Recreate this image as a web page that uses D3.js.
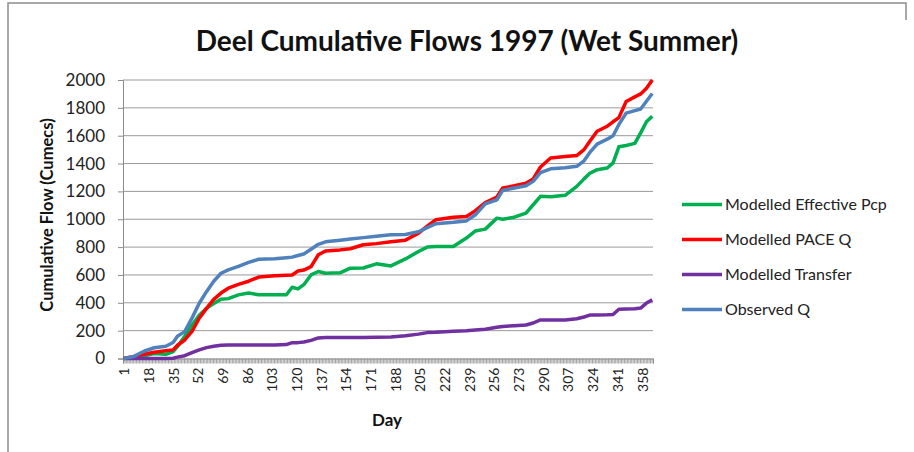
<!DOCTYPE html>
<html>
<head>
<meta charset="utf-8">
<script src="https://cdn.jsdelivr.net/npm/d3@7"></script>
<style>
  body { margin: 0; background: #fff; }
  svg { display: block; font-family: Lato, "Open Sans", sans-serif; }
</style>
</head>
<body>
<div id="chart"></div>
<script>
const days = [1, 8, 15, 22, 30, 35, 38, 43, 48, 53, 58, 63, 68, 73, 80, 87, 94, 105, 113, 117, 121, 125, 130, 135, 140, 150, 157, 166, 175, 185, 195, 204, 210, 216, 228, 237, 243, 250, 258, 262, 270, 278, 283, 288, 295, 305, 313, 318, 322, 327, 334, 338, 342, 347, 353, 357, 361, 365];

const effectivePcp = [0, 8, 20, 36, 30, 50, 85, 160, 240, 310, 360, 395, 426, 430, 457, 470, 458, 457, 458, 512, 500, 530, 600, 625, 612, 615, 649, 650, 680, 665, 715, 768, 800, 805, 804, 865, 915, 929, 1008, 1000, 1015, 1044, 1104, 1165, 1162, 1172, 1236, 1290, 1330, 1356, 1368, 1405, 1520, 1530, 1545, 1620, 1700, 1740];

const paceQ = [0, 14, 30, 45, 55, 62, 95, 133, 195, 289, 360, 425, 470, 505, 532, 555, 585, 594, 598, 600, 628, 635, 660, 745, 772, 780, 788, 817, 825, 838, 850, 900, 950, 997, 1015, 1020, 1060, 1120, 1160, 1224, 1240, 1258, 1290, 1375, 1440, 1450, 1457, 1500, 1560, 1632, 1668, 1700, 1730, 1845, 1879, 1900, 1940, 2000];

const transfer = [0, 0, 0, 0, 0, 2, 10, 20, 42, 62, 78, 88, 95, 97, 97, 97, 97, 97, 100, 114, 114, 118, 130, 148, 150, 150, 150, 150, 152, 155, 163, 175, 186, 188, 195, 200, 205, 210, 224, 230, 236, 241, 255, 277, 277, 277, 285, 298, 312, 313, 314, 316, 354, 356, 358, 362, 398, 421];

const observedQ = [0, 15, 52, 77, 88, 115, 160, 193, 290, 397, 480, 555, 612, 637, 661, 690, 713, 716, 724, 728, 740, 750, 785, 820, 838, 850, 858, 868, 878, 888, 890, 910, 940, 968, 978, 988, 1030, 1110, 1140, 1207, 1225, 1240, 1272, 1335, 1362, 1370, 1380, 1420, 1480, 1540, 1575, 1600, 1680, 1762, 1780, 1792, 1847, 1903];

const seriesNames = ["Modelled Effective Pcp", "Modelled PACE Q", "Modelled Transfer", "Observed Q"];
const seriesColors = ["#00b050", "#ff0000", "#7030a0", "#4f81bd"];
const xLabels = [1, 18, 35, 52, 69, 86, 103, 120, 137, 154, 171, 188, 205, 222, 239, 256, 273, 290, 307, 324, 341, 358];
const yTicks = [0, 200, 400, 600, 800, 1000, 1200, 1400, 1600, 1800, 2000];

const width = 914;
const height = 452;
const plot = { left: 123, right: 653, top: 80, bottom: 358.5 };

const svg = d3.select("#chart")
    .append("svg")
    .attr("width", width)
    .attr("height", height);

// chart frame (left / top edge of the excel chart box)
svg.append("path")
    .attr("d", "M8,452 L8,3 L906,3 L906,20")
    .attr("fill", "none")
    .attr("stroke", "#8c8c8c")
    .attr("stroke-width", 1.5);

const x = d3.scaleLinear()
    .domain([0.5, 365.5])
    .range([plot.left, plot.right]);

const y = d3.scaleLinear()
    .domain([0, 2000])
    .range([plot.bottom, plot.top]);

// gridlines
svg.append("g")
    .selectAll("line")
    .data(yTicks.filter(d => d > 0))
    .join("line")
    .attr("x1", plot.left)
    .attr("x2", plot.right)
    .attr("y1", d => y(d))
    .attr("y2", d => y(d))
    .attr("stroke", "#9a9a9a")
    .attr("stroke-width", 1);

// y axis
const yAxis = svg.append("g")
    .attr("transform", `translate(${plot.left},0)`)
    .call(d3.axisLeft(y).tickValues(yTicks).tickSize(5).tickPadding(13).tickFormat(d3.format("d")));
yAxis.select(".domain").attr("stroke", "#8c8c8c");
yAxis.selectAll(".tick line").attr("stroke", "#8c8c8c");
yAxis.selectAll("text")
    .attr("font-size", 17)
    .attr("font-family", "Lato, sans-serif")
    .attr("fill", "#222");

// x axis: one tick per day
const xAxis = svg.append("g")
    .attr("transform", `translate(0,${plot.bottom})`)
    .call(d3.axisBottom(x).tickValues(d3.range(0.5, 366, 1)).tickSize(5).tickFormat(""));
xAxis.select(".domain").attr("stroke", "#8c8c8c");
xAxis.selectAll(".tick line").attr("stroke", "#8c8c8c").attr("stroke-width", 0.8);

// x labels every 17 days, rotated
const xLab = svg.append("g")
    .attr("transform", `translate(0,${plot.bottom})`)
    .call(d3.axisBottom(x).tickValues(xLabels).tickSize(0).tickFormat(d3.format("d")));
xLab.select(".domain").remove();
xLab.selectAll("text")
    .attr("font-size", 14)
    .attr("font-family", "Lato, sans-serif")
    .attr("fill", "#222")
    .attr("transform", "rotate(-90)")
    .attr("text-anchor", "end")
    .attr("x", -9)
    .attr("y", 0)
    .attr("dy", "0.35em");

// lines
const series = [effectivePcp, paceQ, transfer, observedQ];
const line = d3.line()
    .x((d, i) => x(days[i]))
    .y(d => y(d));

svg.append("g")
    .selectAll("path")
    .data(series)
    .join("path")
    .attr("d", line)
    .attr("fill", "none")
    .attr("stroke", (d, i) => seriesColors[i])
    .attr("stroke-width", 3.5)
    .attr("stroke-linejoin", "round");

// titles
svg.append("text")
    .attr("x", 467)
    .attr("y", 51)
    .attr("text-anchor", "middle")
    .attr("font-size", 28)
    .attr("font-weight", "bold")
    .attr("fill", "#111")
    .text("Deel Cumulative Flows 1997 (Wet Summer)");

svg.append("text")
    .attr("transform", "translate(53,215) rotate(-90)")
    .attr("text-anchor", "middle")
    .attr("font-size", 16.5)
    .attr("font-weight", "bold")
    .attr("fill", "#111")
    .text("Cumulative Flow (Cumecs)");

svg.append("text")
    .attr("x", 387)
    .attr("y", 426)
    .attr("text-anchor", "middle")
    .attr("font-size", 17)
    .attr("font-weight", "bold")
    .attr("fill", "#111")
    .text("Day");

// legend
const legend = svg.append("g")
    .selectAll("g")
    .data(seriesNames)
    .join("g")
    .attr("transform", (d, i) => `translate(682,${204.5 + i * 35})`);

legend.append("line")
    .attr("x1", 0)
    .attr("x2", 40)
    .attr("stroke", (d, i) => seriesColors[i])
    .attr("stroke-width", 3.5);

legend.append("text")
    .attr("x", 43)
    .attr("dy", "0.35em")
    .attr("font-size", 16)
    .attr("fill", "#222")
    .text(d => d);
</script>
</body>
</html>
